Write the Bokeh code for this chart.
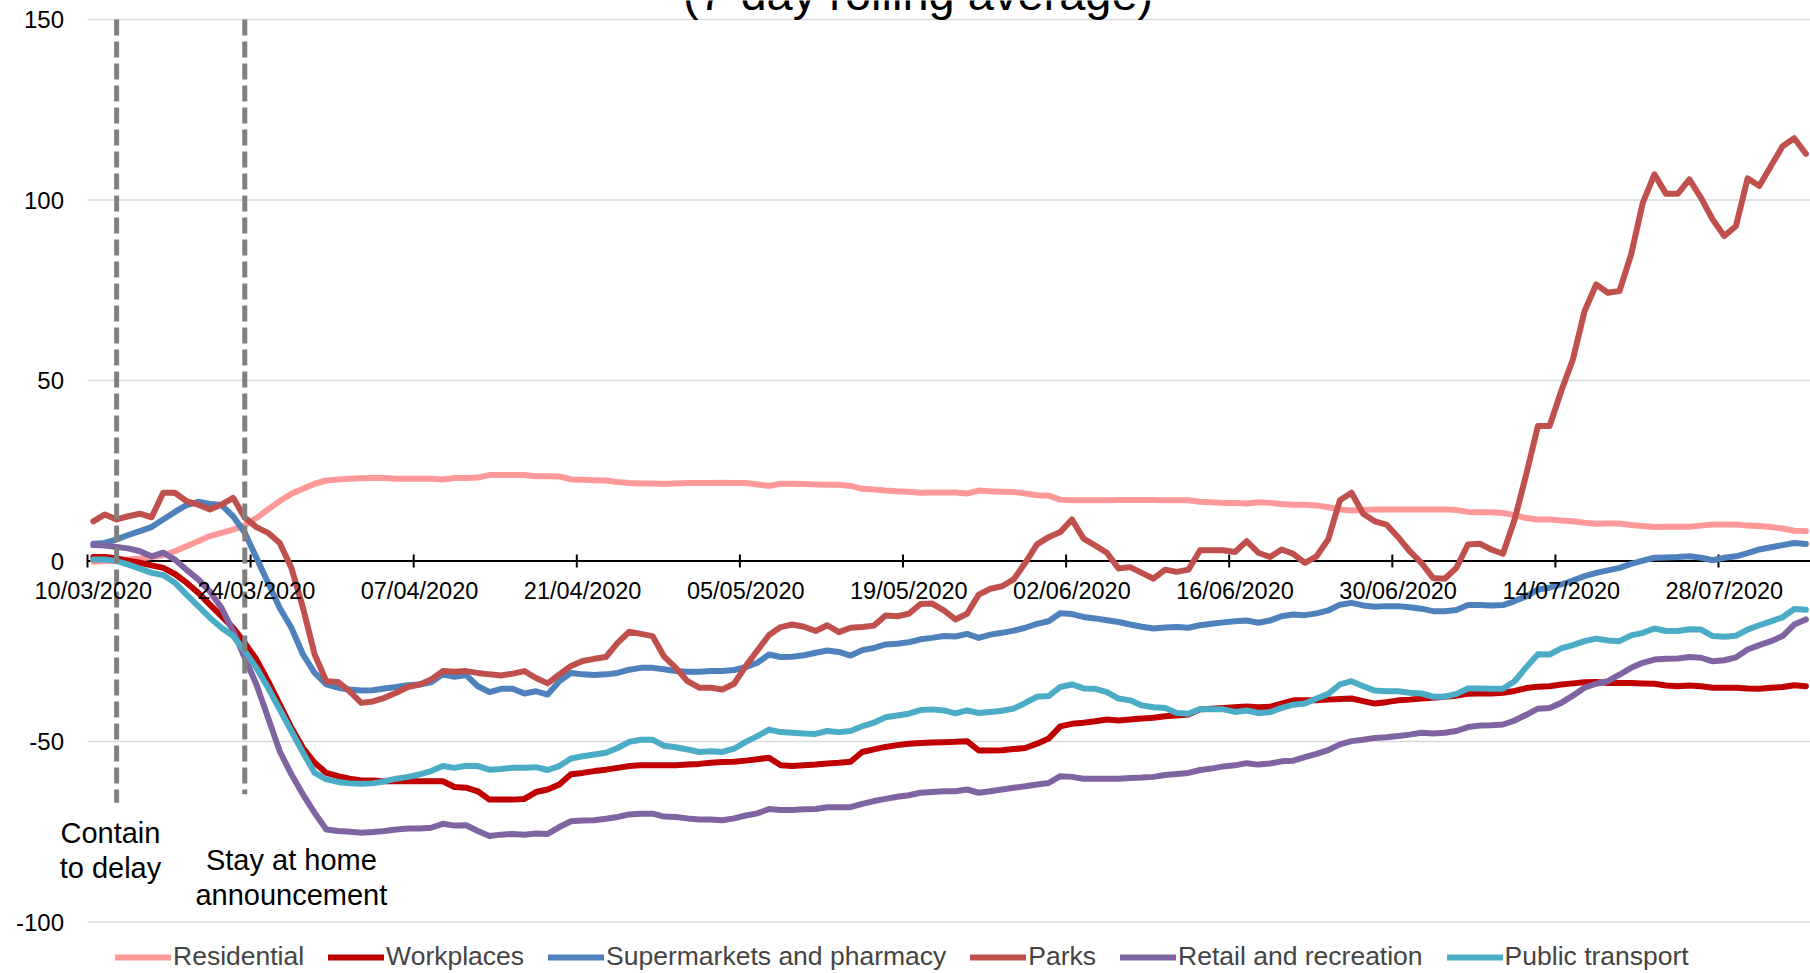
import pandas as pd
from bokeh.plotting import figure
from bokeh.models import Range1d, Legend, LegendItem, Label
from bokeh.embed import file_html
from bokeh.resources import INLINE

# ---------------- data ----------------
dates = list(pd.date_range("2020-03-10", periods=148).strftime("%d/%m/%Y"))

residential = [
    -0.2, 0, 0.1, 0.4, 0.7, 1.1, 1.6, 2.7, 4.1, 5.5, 6.9, 7.8, 8.7, 9.9, 11.9, 14.3, 16.6, 18.6, 20.0, 21.4, 22.3, 22.6, 22.8, 22.9, 23.0,
    23.0, 22.8, 22.8, 22.8, 22.8, 22.6, 23.0, 23.0, 23.1, 23.8, 23.8, 23.8, 23.8, 23.5, 23.5, 23.4, 22.6, 22.5, 22.4, 22.3, 21.9, 21.6, 21.5, 21.5, 21.4,
    21.5, 21.6, 21.6, 21.6, 21.7, 21.6, 21.6, 21.2, 20.8, 21.4, 21.4, 21.3, 21.2, 21.1, 21.1, 20.8, 20.0, 19.8, 19.5, 19.3, 19.2, 18.9, 19.0, 19.0, 19.0,
    18.7, 19.5, 19.3, 19.2, 19.1, 18.7, 18.2, 18.1, 17.0, 16.8, 16.8, 16.8, 16.8, 16.9, 16.9, 16.9, 16.9, 16.8, 16.8, 16.8, 16.4, 16.3, 16.1, 16.1, 15.9,
    16.3, 16.1, 15.8, 15.6, 15.6, 15.4, 14.9, 14.3, 14.0, 14.1, 14.3, 14.3, 14.3, 14.3, 14.3, 14.3, 14.3, 14.1, 13.6, 13.5, 13.5, 13.3, 12.7, 11.9, 11.5,
    11.5, 11.2, 11.0, 10.6, 10.3, 10.4, 10.4, 10.0, 9.7, 9.4, 9.5, 9.5, 9.5, 9.8, 10.1, 10.1, 10.1, 9.8, 9.7, 9.4, 9.0, 8.4, 8.3,
]

workplaces = [
    1.1, 1.1, 0.7, 0.1, -0.5, -1.2, -1.9, -3.6, -6.0, -8.8, -12.1, -15.3, -18.5, -22.7, -27.3, -33.3, -39.7, -46.2, -51.8, -55.9, -58.7, -59.6, -60.3, -60.8, -60.8,
    -61.0, -61.0, -61.0, -61.0, -61.0, -61.0, -62.6, -62.8, -63.8, -66.1, -66.1, -66.1, -65.9, -64.0, -63.3, -61.9, -59.1, -58.7, -58.2, -57.8, -57.3, -56.8, -56.6, -56.6, -56.6,
    -56.6, -56.4, -56.2, -55.9, -55.7, -55.6, -55.3, -54.9, -54.5, -56.6, -56.8, -56.6, -56.4, -56.1, -55.9, -55.6, -52.9, -52.2, -51.5, -51.0, -50.6, -50.4, -50.3, -50.2, -50.1,
    -49.9, -52.5, -52.5, -52.4, -52.1, -51.8, -50.6, -49.2, -45.8, -45.1, -44.8, -44.4, -43.9, -44.2, -43.9, -43.6, -43.4, -43.0, -42.8, -42.5, -41.1, -40.9, -40.7, -40.5, -40.3,
    -40.5, -40.4, -39.5, -38.6, -38.6, -38.6, -38.4, -38.2, -38.1, -38.8, -39.5, -39.1, -38.6, -38.4, -38.1, -37.9, -37.6, -37.3, -36.8, -36.7, -36.7, -36.5, -36.0, -35.2, -34.8,
    -34.7, -34.2, -33.9, -33.6, -33.5, -33.8, -33.8, -33.8, -33.9, -34.0, -34.5, -34.7, -34.5, -34.7, -35.1, -35.1, -35.1, -35.3, -35.4, -35.1, -34.9, -34.4, -34.7,
]

supermarkets = [
    4.75, 5.0, 6.0, 7.2, 8.3, 9.4, 11.5, 13.6, 15.5, 16.4, 15.8, 15.5, 12.4, 7.8, 0.9, -6.0, -13.0, -18.5, -25.9, -31.0, -34.2, -35.1, -35.6, -35.9, -35.8,
    -35.3, -34.9, -34.4, -34.2, -33.6, -31.4, -32.1, -31.6, -34.7, -36.3, -35.4, -35.4, -36.7, -36.1, -37.0, -33.3, -31.0, -31.4, -31.6, -31.4, -31.0, -30.1, -29.6, -29.6, -30.0,
    -30.5, -30.7, -30.7, -30.5, -30.5, -30.2, -29.4, -28.2, -25.9, -26.6, -26.5, -26.1, -25.4, -24.8, -25.2, -26.2, -24.7, -24.1, -23.1, -22.9, -22.5, -21.7, -21.3, -20.8, -20.9,
    -20.2, -21.3, -20.4, -19.9, -19.3, -18.5, -17.4, -16.7, -14.5, -14.7, -15.5, -15.9, -16.4, -16.9, -17.6, -18.2, -18.7, -18.4, -18.3, -18.5, -17.8, -17.4, -17.0, -16.7, -16.5,
    -17.1, -16.5, -15.3, -14.8, -15.0, -14.5, -13.7, -12.1, -11.6, -12.3, -12.7, -12.5, -12.5, -12.8, -13.2, -13.9, -13.9, -13.6, -12.2, -12.2, -12.3, -12.2, -11.1, -9.8, -7.9,
    -7.4, -6.5, -5.4, -4.2, -3.3, -2.6, -1.9, -0.8, 0.1, 0.9, 1.0, 1.1, 1.3, 0.9, 0.2, 0.9, 1.3, 2.2, 3.2, 3.8, 4.4, 5.0, 4.7,
]

parks = [
    11.0, 12.9, 11.5, 12.4, 13.1, 12.1, 18.9, 18.9, 16.6, 15.6, 14.3, 15.6, 17.5, 12.0, 9.4, 7.8, 5.0, -1.9, -13.0, -25.9, -33.3, -33.5, -36.1, -39.3, -38.9,
    -37.9, -36.5, -34.9, -34.2, -32.8, -30.5, -30.7, -30.5, -31.0, -31.4, -31.7, -31.2, -30.5, -32.4, -33.9, -31.4, -29.1, -27.7, -27.1, -26.6, -22.7, -19.6, -20.2, -20.8, -26.5,
    -29.6, -33.3, -35.1, -35.1, -35.6, -34.0, -29.1, -24.8, -20.5, -18.3, -17.6, -18.2, -19.4, -17.8, -19.7, -18.5, -18.3, -17.9, -15.1, -15.3, -14.6, -11.9, -11.8, -13.7, -16.2,
    -14.6, -9.3, -7.7, -7.0, -5.1, -0.5, 4.6, 6.6, 8.0, 11.5, 6.2, 4.3, 2.3, -2.1, -1.7, -3.3, -4.9, -2.4, -3.0, -2.4, 3.0, 3.0, 3.0, 2.5, 5.5,
    2.3, 1.1, 3.2, 2.0, -0.5, 1.3, 6.0, 16.8, 18.9, 13.1, 11.0, 10.1, 6.6, 2.7, -0.5, -4.7, -4.9, -1.9, 4.6, 4.8, 3.2, 2.0, 11.5, 24.0, 37.4,
    37.4, 47.1, 55.8, 69.2, 76.6, 74.3, 74.8, 84.9, 99.2, 107.1, 101.7, 101.7, 105.7, 100.6, 94.6, 90.0, 92.8, 106.0, 103.9, 109.4, 114.9, 117.1, 112.8,
]

retail = [
    4.4, 4.3, 3.9, 3.5, 2.7, 1.3, 2.3, 0.4, -2.4, -5.1, -8.4, -13.0, -19.4, -26.8, -34.2, -43.4, -52.7, -59.1, -64.7, -69.8, -74.4, -74.8, -75.0, -75.3, -75.1,
    -74.8, -74.4, -74.1, -74.1, -73.9, -72.8, -73.3, -73.2, -74.8, -76.2, -75.8, -75.6, -75.8, -75.5, -75.6, -73.7, -72.1, -71.9, -71.8, -71.4, -70.9, -70.2, -70.0, -70.0, -70.8,
    -70.9, -71.3, -71.6, -71.6, -71.8, -71.3, -70.5, -69.9, -68.7, -69.0, -69.0, -68.8, -68.7, -68.2, -68.2, -68.2, -67.3, -66.5, -65.9, -65.3, -64.9, -64.2, -64.0, -63.8, -63.8,
    -63.3, -64.2, -63.8, -63.3, -62.8, -62.4, -61.9, -61.5, -59.6, -59.8, -60.3, -60.3, -60.3, -60.3, -60.1, -60.0, -59.8, -59.3, -59.0, -58.7, -57.9, -57.5, -56.9, -56.6, -56.0,
    -56.4, -56.1, -55.5, -55.3, -54.3, -53.4, -52.4, -50.8, -49.9, -49.5, -49.0, -48.8, -48.5, -48.1, -47.6, -47.8, -47.6, -47.1, -46.0, -45.6, -45.5, -45.3, -44.2, -42.6, -40.9,
    -40.7, -39.3, -37.3, -35.1, -34.0, -33.3, -31.5, -29.6, -28.2, -27.3, -27.1, -27.0, -26.6, -26.8, -27.8, -27.5, -26.7, -24.5, -23.3, -22.2, -20.8, -17.6, -16.2,
]

public_transport = [
    0.4, 0.4, 0.0, -1.0, -2.1, -3.3, -3.9, -6.0, -9.3, -12.5, -15.7, -18.5, -20.8, -25.0, -29.6, -35.1, -41.1, -47.1, -53.1, -58.7, -60.5, -61.2, -61.6, -61.7, -61.6,
    -61.0, -60.3, -59.8, -59.1, -58.2, -56.8, -57.3, -56.7, -56.8, -57.8, -57.6, -57.3, -57.3, -57.1, -57.9, -56.8, -54.7, -54.1, -53.6, -53.1, -51.8, -50.1, -49.5, -49.5, -51.2,
    -51.6, -52.2, -52.9, -52.7, -52.9, -52.0, -50.1, -48.5, -46.7, -47.4, -47.6, -47.8, -47.9, -47.1, -47.4, -47.1, -45.8, -44.8, -43.3, -42.8, -42.3, -41.3, -41.1, -41.4, -42.2,
    -41.4, -42.1, -41.8, -41.5, -40.9, -39.3, -37.6, -37.4, -34.9, -34.2, -35.3, -35.4, -36.3, -38.1, -38.6, -40.0, -40.5, -40.7, -42.1, -42.3, -41.0, -41.1, -41.1, -41.8, -41.4,
    -42.1, -41.9, -40.7, -39.8, -39.5, -38.1, -36.8, -34.2, -33.3, -34.7, -35.9, -36.1, -36.1, -36.5, -36.7, -37.6, -37.6, -36.8, -35.3, -35.3, -35.4, -35.4, -33.3, -29.4, -25.8,
    -25.9, -24.2, -23.3, -22.2, -21.5, -22.0, -22.2, -20.6, -19.9, -18.7, -19.4, -19.4, -18.9, -19.0, -20.8, -21.0, -20.7, -19.0, -17.8, -16.7, -15.6, -13.3, -13.5,
]

series_names = ["Residential", "Workplaces", "Supermarkets and pharmacy", "Parks",
                "Retail and recreation", "Public transport"]
series_values = [residential, workplaces, supermarkets, parks, retail, public_transport]
series_colors = ["#FF9999", "#C00000", "#4F81BD", "#C0504D", "#8064A2", "#4BACC6"]

tick_labels = ["10/03/2020", "24/03/2020", "07/04/2020", "21/04/2020", "05/05/2020", "19/05/2020",
               "02/06/2020", "16/06/2020", "30/06/2020", "14/07/2020", "28/07/2020"]
y_ticks = [-100, -50, 0, 50, 100, 150]

event_labels = ["Contain\nto delay", "Stay at home\nannouncement"]
event_dates = ["12/03/2020", "23/03/2020"]

title_text = "(7-day rolling average)"

# ---------------- layout constants ----------------
# The plotting frame covers the whole canvas (annotations are clipped to the
# frame), so the value axis is drawn inside it with the same data scales.
W, H = 1810, 973
AX_LEFT_PX, AX_TOP_PX = 87, 19        # where the chart area starts
PX_PER_DAY = 11.65
PX_PER_UNIT = 3.61
X0 = -0.5                              # left edge of the chart area (data)
X_START = X0 - AX_LEFT_PX / PX_PER_DAY
X_END = X0 + (W - AX_LEFT_PX) / PX_PER_DAY
Y_TOP = 150 + AX_TOP_PX / PX_PER_UNIT
Y_BOTTOM = 150 - (H - AX_TOP_PX) / PX_PER_UNIT
YLABEL_X = X0 - 23.5 / PX_PER_DAY      # right edge of value labels
FONT = "Liberation Sans"

x = list(range(len(dates)))
tick_idx = [dates.index(t) for t in tick_labels]
tick_pos = [t - 0.5 for t in tick_idx]
event_idx = [dates.index(d) for d in event_dates]

p = figure(width=W, height=H, output_backend="svg", toolbar_location=None,
           title_location=None, x_axis_location=None, y_axis_location=None,
           x_range=Range1d(X_START, X_END), y_range=Range1d(Y_BOTTOM, Y_TOP),
           min_border=0)
p.outline_line_color = None
p.background_fill_color = "white"
p.border_fill_color = "white"
p.xgrid.visible = False
p.ygrid.visible = False

# value gridlines and labels
grid_vals = [t for t in y_ticks if t != 0]
p.segment(x0=X0, y0=grid_vals, x1=X_END, y1=grid_vals, line_color="#D9D9D9", line_width=1.5)
for t in y_ticks:
    p.add_layout(Label(x=YLABEL_X, y=t, text=str(t), text_align="right", text_baseline="middle",
                       text_font=FONT, text_font_size="24px", text_color="#000000"))

# zero axis line + ticks
p.segment(x0=X0, y0=0, x1=X_END, y1=0, line_color="black", line_width=2)
p.segment(x0=tick_pos, y0=-1.8, x1=tick_pos, y1=1.8, line_color="black", line_width=2)

# series
renderers = []
for name, vals, col in zip(series_names, series_values, series_colors):
    r = p.line(x, vals, line_color=col, line_width=6, line_join="round", line_cap="round")
    renderers.append(r)

# date labels along the zero line
for ti, tl in zip(tick_idx, tick_labels):
    p.add_layout(Label(x=ti, y=-8.3, text=tl, text_align="center", text_baseline="middle",
                       text_font=FONT, text_font_size="23.5px", text_color="#000000"))

# event markers
p.segment(x0=event_idx, y0=150, x1=event_idx, y1=[-67, -64.6], line_color="#808080",
          line_width=5, line_dash="16 6")
for ex, ey, et in zip([1.47, 17.0], [-80.1, -87.7], event_labels):
    p.add_layout(Label(x=ex, y=ey, text=et, text_align="center", text_baseline="middle",
                       text_font=FONT, text_font_size="29px", text_line_height=1.1,
                       text_color="#000000"))

# legend along the bottom edge
legend = Legend(items=[LegendItem(label=n, renderers=[r]) for n, r in zip(series_names, renderers)],
                orientation="horizontal", location=(AX_LEFT_PX + 28, 1),
                label_text_font=FONT, label_text_font_size="26.5px",
                glyph_width=56, glyph_height=30, label_height=30, label_standoff=2,
                spacing=24, padding=0, margin=0, border_line_color=None,
                background_fill_alpha=0)
p.add_layout(legend)

# title, cut by the top edge as in the source image
p.add_layout(Label(x=70.8, y=157.3, text=title_text, text_align="center", text_baseline="middle",
                   text_font=FONT, text_font_size="47px", text_color="#000000"))

open("out.html", "w").write(file_html(p, INLINE))
